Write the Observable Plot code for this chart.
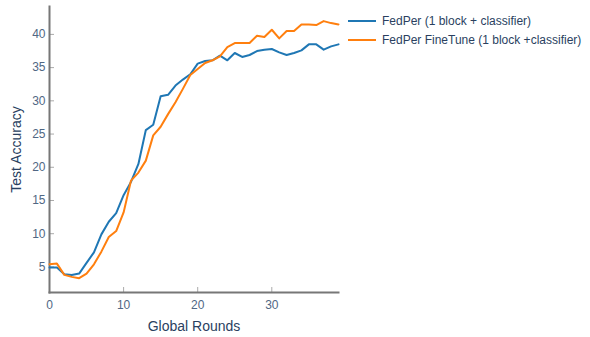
<!DOCTYPE html>
<html>
<head>
<meta charset="utf-8">
<script src="https://cdn.jsdelivr.net/npm/d3@7"></script>
<script src="https://cdn.jsdelivr.net/npm/@observablehq/plot@0.6"></script>
<style>
  html, body { margin: 0; padding: 0; background: #fff; }
  #wrap { position: relative; width: 590px; height: 337px; font-family: "Liberation Sans", Arial, sans-serif; }
  #legend { position: absolute; left: 348px; top: 11px; font-size: 12px; color: #2a3f5f; }
  .item { display: flex; align-items: center; height: 19px; }
  .swatch { width: 28px; height: 2px; margin-right: 6px; }
</style>
</head>
<body>
<div id="wrap"><div id="legend"></div></div>
<script>
const rounds = d3.range(0, 40);
const seriesNames = ["FedPer (1 block + classifier)", "FedPer FineTune (1 block +classifier)"];
const seriesColors = ["#1f77b4", "#ff7f0e"];
const fedPer = [4.9, 4.9, 3.9, 3.8, 4.0, 5.6, 7.2, 9.9, 11.8, 13.1,
  15.8, 17.8, 20.5, 25.6, 26.4, 30.7, 30.9, 32.3, 33.2, 34.0,
  35.6, 36.0, 36.1, 36.8, 36.1, 37.2, 36.6, 36.9, 37.5, 37.7,
  37.8, 37.3, 36.9, 37.2, 37.6, 38.5, 38.5, 37.7, 38.2, 38.5];
const fedPerFineTune = [5.4, 5.5, 3.8, 3.5, 3.3, 4.0, 5.4, 7.3, 9.5, 10.4,
  13.2, 18.0, 19.2, 21.0, 24.8, 26.1, 28.0, 29.8, 31.8, 33.9,
  34.8, 35.7, 36.1, 36.7, 38.1, 38.7, 38.7, 38.7, 39.8, 39.6,
  40.7, 39.4, 40.5, 40.5, 41.5, 41.5, 41.4, 42.0, 41.7, 41.5];
const xTicks = [0, 10, 20, 30];
const yTicks = [5, 10, 15, 20, 25, 30, 35, 40];
const xLabel = "Global Rounds";
const yLabel = "Test Accuracy";

const data = [];
[fedPer, fedPerFineTune].forEach((vals, s) => {
  vals.forEach((v, i) => data.push({round: rounds[i], acc: v, series: seriesNames[s]}));
});

const chart = Plot.plot({
  width: 590,
  height: 337,
  marginLeft: 49,
  marginRight: 252,
  marginTop: 6,
  marginBottom: 45,
  style: {fontFamily: "'Liberation Sans', Arial, sans-serif", background: "#fff"},
  x: {domain: [0, 39]},
  y: {domain: [1.15, 44.2]},
  color: {domain: seriesNames, range: seriesColors},
  marks: [
    Plot.axisX({ticks: xTicks, tickSize: -5, tickPadding: 13, stroke: "#aaa", fill: "#506784", fontSize: 12, label: null}),
    Plot.axisY({ticks: yTicks, tickSize: -5, tickPadding: 9, stroke: "#aaa", fill: "#506784", fontSize: 12, label: null}),
    Plot.axisX({ticks: [], label: xLabel, labelAnchor: "center", labelArrow: "none", labelOffset: 38, fontSize: 14, fill: "#2a3f5f", tickSize: 0}),
    Plot.axisY({ticks: [], label: yLabel, labelAnchor: "center", labelArrow: "none", labelOffset: 38, fontSize: 14, fill: "#2a3f5f", tickSize: 0}),
    Plot.frame({anchor: "left", stroke: "#777", strokeWidth: 2}),
    Plot.frame({anchor: "bottom", stroke: "#777", strokeWidth: 2}),
    Plot.line(data, {x: "round", y: "acc", z: "series", stroke: "series", strokeWidth: 2, strokeLinejoin: "round"})
  ]
});
document.getElementById("wrap").prepend(chart);

const legend = document.getElementById("legend");
seriesNames.forEach((name, i) => {
  const item = document.createElement("div");
  item.className = "item";
  const sw = document.createElement("span");
  sw.className = "swatch";
  sw.style.background = seriesColors[i];
  const t = document.createElement("span");
  t.textContent = name;
  item.append(sw, t);
  legend.append(item);
});
</script>
</body>
</html>
